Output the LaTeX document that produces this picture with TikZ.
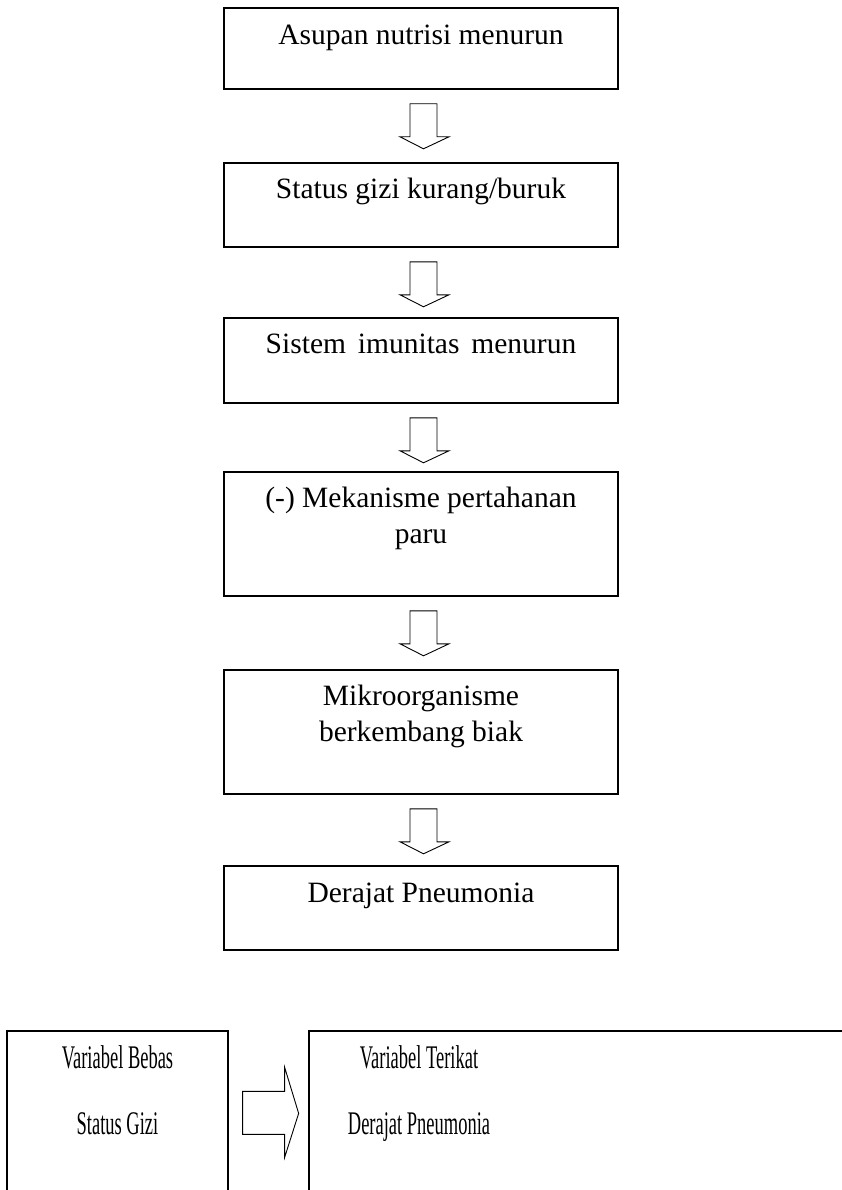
\documentclass[tikz,border=0pt]{standalone}
\usepackage{fontspec}
\setmainfont{Liberation Serif}
\newfontfamily\topfont{Liberation Serif}
\newfontfamily\botfont[FakeStretch=0.56]{Liberation Serif}
\usetikzlibrary{calc}
\tikzset{
  box/.style={draw, line width=1.6pt, rectangle, minimum width=394pt, inner sep=0pt},
  lbl/.style={anchor=base, inner sep=0pt, font=\topfont\fontsize{29.5}{34}\selectfont},
  blbl/.style={anchor=base, inner sep=0pt, font=\botfont\fontsize{33}{40}\selectfont},
  bbox/.style={draw, line width=1.3pt, rectangle, inner sep=0pt},
  blockarrow/.style={draw, line width=0.9pt, line join=miter},
}
\newcommand\vblockarrow[1]{\draw[blockarrow, shift={(#1.south)}] (-11,14) -- (16,14) -- (16,47) -- (28,47) -- (2.5,59) -- (-21,47) -- (-11,47) -- cycle;}
\begin{document}
\begin{tikzpicture}[x=1pt,y=-1pt]
\useasboundingbox (0,0) rectangle (842,1190);
\clip (0,0) rectangle (842,1190);
\fill[white] (0,0) rectangle (842,1190);

\node[box, minimum height=81pt]  (b1) at (421,48.5) {};
\node[box, minimum height=84pt]  (b2) at (421,205) {};
\node[box, minimum height=85pt]  (b3) at (421,360.5) {};
\node[box, minimum height=124pt] (b4) at (421,534) {};
\node[box, minimum height=124pt] (b5) at (421,732) {};
\node[box, minimum height=84pt]  (b6) at (421,908) {};

\node[lbl] (t1) at (421,44.5) {Asupan nutrisi menurun};
\node[lbl] (t2) at (421,199) {Status gizi kurang/buruk};
\node[lbl] (t3) at (421,353) {Sistem\hspace{4.5pt} imunitas\hspace{4.5pt} menurun};
\node[lbl] (t4a) at (421,507) {(-) Mekanisme pertahanan};
\node[lbl] (t4b) at (421,543) {paru};
\node[lbl] (t5a) at (421,705) {Mikroorganisme};
\node[lbl] (t5b) at (421,741) {berkembang biak};
\node[lbl] (t6) at (421,902) {Derajat Pneumonia};

\vblockarrow{b1}
\vblockarrow{b2}
\vblockarrow{b3}
\vblockarrow{b4}
\vblockarrow{b5}

\node[bbox, minimum width=221pt, minimum height=229pt] (bl) at (117.5,1145.5) {};
\node[bbox, minimum width=591pt, minimum height=229pt] (br) at (604.5,1145.5) {};

\node[blbl] (v1) at (117.5,1068) {Variabel Bebas};
\node[blbl] (v2) at (117.5,1134) {Status Gizi};
\node[blbl] (v3) at (419,1068) {Variabel Terikat};
\node[blbl] (v4) at (419,1134) {Derajat Pneumonia};

\draw[blockarrow, shift={(bl.north east)}] (14,61) -- (56,61) -- (56,37) -- (70,83) -- (56,127) -- (56,104) -- (14,104) -- cycle;
\end{tikzpicture}
\end{document}
